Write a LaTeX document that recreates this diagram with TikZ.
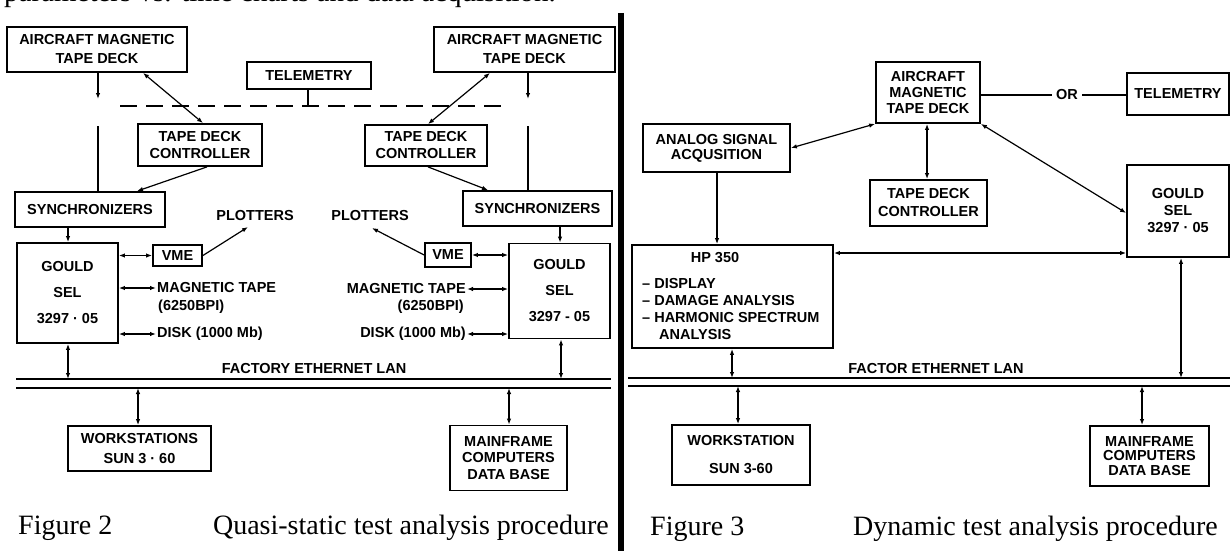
\documentclass[tikz,border=0pt]{standalone}
\usepackage{fontspec}
\setmainfont{Liberation Sans}
\newfontfamily\capfont{Liberation Serif}
\usetikzlibrary{arrows.meta}
\newcommand\boxfont{\bfseries\fontsize{14.5}{17}\selectfont}
\newcommand\bfs[1]{\bfseries\fontsize{14.5}{#1}\selectfont}
\begin{document}
\begin{tikzpicture}[x=1pt,y=-1pt,
  box/.style={draw, line width=1.8pt, inner sep=0pt, align=center, font=\boxfont},
  lbl/.style={inner sep=0pt, inner xsep=1pt, font=\boxfont},
  conn/.style={line width=1.2pt},
  arr/.style={conn, -{Latex[length=6pt,width=4.5pt]}},
  darr/.style={conn, {Latex[length=6pt,width=4.5pt]}-{Latex[length=6pt,width=4.5pt]}},
  lan/.style={line width=2pt},
  captxt/.style={inner sep=0pt, font=\capfont\fontsize{28}{30}\selectfont, anchor=base west},
]
\useasboundingbox (0,0) rectangle (1230,551);
\fill[white] (0,0) rectangle (1230,551);

% cut-off line of body text at the top
\begin{scope}
\clip (0,0) rectangle (1230,551);
\node[captxt, font=\capfont\fontsize{29}{30}\selectfont] (toptext) at (4,2) {parameters vs. time charts and data acquisition.};
\end{scope}

% divider
\coordinate (divA) at (621,13);
\coordinate (divB) at (621,551);
\draw[line width=6pt] (divA) -- (divB);

% ================= Figure 2 =================
\node[box, minimum width=180, minimum height=45, font=\bfs{19}] (amtdL) at (97,49.5) {AIRCRAFT MAGNETIC\\TAPE DECK};
\node[box, minimum width=124, minimum height=27] (telL) at (309,75.5) {TELEMETRY};
\node[box, minimum width=181, minimum height=45, font=\bfs{19}] (amtdLb) at (524.5,49.5) {AIRCRAFT MAGNETIC\\TAPE DECK};
\node[box, minimum width=124, minimum height=42] (tdcL) at (200,145) {TAPE DECK\\CONTROLLER};
\node[box, minimum width=122, minimum height=41] (tdcLb) at (426,145.5) {TAPE DECK\\CONTROLLER};
\node[box, minimum width=150, minimum height=35] (syncL) at (90,209.5) {SYNCHRONIZERS};
\node[box, minimum width=149, minimum height=35] (syncLb) at (537.5,208.5) {SYNCHRONIZERS};
\node[box, minimum width=101, minimum height=100, font=\bfs{26}] (gouldL) at (67.5,293) {GOULD\\SEL\\3297 · 05};
\node[box, minimum width=101, minimum height=95, font=\bfs{26}] (gouldLb) at (559.5,291) {GOULD\\SEL\\3297 - 05};
\node[box, minimum width=49, minimum height=21] (vmeL) at (177.5,255.5) {VME};
\node[box, minimum width=46, minimum height=24] (vmeLb) at (448,255) {VME};
\node[lbl] (plotL) at (255,216) {PLOTTERS};
\node[lbl] (plotLb) at (370,216) {PLOTTERS};
\node[lbl, anchor=west] (magL) at (156,288) {MAGNETIC TAPE};
\node[lbl, anchor=west] (bpiL) at (157,307) {(6250BPI)};
\node[lbl, anchor=west] (diskL) at (156,334) {DISK (1000 Mb)};
\node[lbl, anchor=east] (magLb) at (467,289) {MAGNETIC TAPE};
\node[lbl, anchor=east] (bpiLb) at (465,307) {(6250BPI)};
\node[lbl, anchor=east] (diskLb) at (467,334) {DISK (1000 Mb)};
\node[lbl] (lanL) at (314,369) {FACTORY ETHERNET LAN};
\node[box, minimum width=143, minimum height=45, font=\bfs{20}] (wsL) at (139.5,448.5) {WORKSTATIONS\\SUN 3 · 60};
\node[box, minimum width=117, minimum height=65, font=\bfs{16.5}] (mfL) at (508.5,458) {MAINFRAME\\COMPUTERS\\DATA BASE};

\coordinate (telTick) at (308,106);
\coordinate (dashA) at (120,106);
\coordinate (dashB) at (508,106);
\draw[conn, dash pattern=on 17pt off 9pt] (dashA) -- (dashB);
\draw[conn] (telL.south -| telTick) -- (telTick) ++(-6,0) -- ++(12,0);

\coordinate (dL) at (98,99);
\coordinate (uL) at (98,126);
\draw[arr] (amtdL.south -| dL) -- (dL);
\draw[conn] (uL) -- (uL |- syncL.north);
\draw[darr] (amtdL.south -| 143,0) -- (tdcL.north -| 203,0);
\draw[arr] (tdcL.south -| 207,0) -- (syncL.north -| 137,0);
\draw[arr] (syncL.south -| 68,0) -- (gouldL.north -| 68,0);
\draw[darr] (gouldL.east |- vmeL.west) -- (vmeL.west);
\coordinate (plotLp) at (248,227);
\draw[arr] (vmeL.east) -- (plotLp);
\draw[darr] (gouldL.east |- magL.west) -- (magL.west);
\draw[darr] (gouldL.east |- diskL.west) -- (diskL.west);

\coordinate (dLb) at (528,99);
\coordinate (uLb) at (528,126);
\draw[arr] (amtdLb.south -| dLb) -- (dLb);
\draw[conn] (uLb) -- (uLb |- syncLb.north);
\draw[darr] (amtdLb.south -| 490,0) -- (tdcLb.north -| 428,0);
\draw[arr] (tdcLb.south -| 428,0) -- (syncLb.north -| 488,0);
\draw[arr] (syncLb.south -| 560,0) -- (gouldLb.north -| 560,0);
\draw[darr] (vmeLb.east) -- (gouldLb.west |- vmeLb.east);
\coordinate (plotLbp) at (372,228);
\draw[arr] (vmeLb.west) -- (plotLbp);
\draw[darr] (magLb.east) -- (gouldLb.west |- magLb.east);
\draw[darr] (diskLb.east) -- (gouldLb.west |- diskLb.east);

\coordinate (lanL1a) at (16,379);
\coordinate (lanL1b) at (611,379);
\coordinate (lanL2a) at (16,388);
\coordinate (lanL2b) at (611,388);
\draw[lan] (lanL1a) -- (lanL1b);
\draw[lan] (lanL2a) -- (lanL2b);
\draw[darr] (gouldL.south -| 68,0) -- (68,0 |- lanL1a);
\draw[darr] (gouldLb.south -| 561,0) -- (561,0 |- lanL1a);
\draw[darr] (lanL2a -| 138,0) -- (wsL.north -| 138,0);
\draw[darr] (lanL2a -| 509,0) -- (mfL.north -| 509,0);

\node[captxt] (capL) at (18,534) {Figure 2};
\node[captxt, anchor=base east] (capLb) at (609,534) {Quasi-static test analysis procedure};

% ================= Figure 3 =================
\node[box, minimum width=104, minimum height=61, font=\bfs{16}] (amtdR) at (928,92.5) {AIRCRAFT\\MAGNETIC\\TAPE DECK};
\node[box, minimum width=102, minimum height=42] (telR) at (1178,94) {TELEMETRY};
\node[lbl, inner xsep=4pt] (orR) at (1067,95) {OR};
\node[box, minimum width=147, minimum height=48, font=\bfs{15}] (asa) at (716.5,148) {ANALOG SIGNAL\\ACQUSITION};
\node[box, minimum width=117, minimum height=46, font=\bfs{18}] (tdcR) at (928.5,203) {TAPE DECK\\CONTROLLER};
\node[box, minimum width=201, minimum height=103] (hp) at (732.5,296.5) {};
\node[lbl] (hpT) at (715,258) {HP 350};
\node[lbl, anchor=north west, align=left, font=\bfs{17}] (hpL) at (641,278) {– DISPLAY\\– DAMAGE ANALYSIS\\– HARMONIC SPECTRUM\\\hspace*{17pt}ANALYSIS};
\node[box, minimum width=102, minimum height=92, font=\bfs{17}] (gouldR) at (1178,211) {GOULD\\SEL\\3297 · 05};
\node[lbl] (lanR) at (936,369) {FACTOR ETHERNET LAN};
\node[box, minimum width=138, minimum height=60, font=\bfs{28}] (wsR) at (741,455) {WORKSTATION\\SUN 3-60};
\node[box, minimum width=119, minimum height=60, font=\bfs{14.5}] (mfR) at (1149.5,456) {MAINFRAME\\COMPUTERS\\DATA BASE};

\draw[darr] (asa.east) -- (amtdR.south west);
\draw[darr] (amtdR.south -| 927,0) -- (tdcR.north -| 927,0);
\draw[darr] (amtdR.south east) -- (gouldR.west |- 0,213);
\draw[conn] (amtdR.east |- orR.west) -- (orR.west);
\draw[conn] (orR.east) -- (telR.west |- orR.east);
\draw[arr] (asa.south -| 717,0) -- (hp.north -| 717,0);
\draw[darr] (hp.east |- 0,253) -- (gouldR.west |- 0,253);

\coordinate (lanR1a) at (628,378);
\coordinate (lanR1b) at (1230,378);
\coordinate (lanR2a) at (628,386);
\coordinate (lanR2b) at (1230,386);
\draw[lan] (lanR1a) -- (lanR1b);
\draw[lan] (lanR2a) -- (lanR2b);
\draw[darr] (gouldR.south -| 1181,0) -- (1181,0 |- lanR1a);
\draw[darr] (hp.south -| 732,0) -- (732,0 |- lanR1a);
\draw[darr] (lanR2a -| 738,0) -- (wsR.north -| 738,0);
\draw[darr] (lanR2a -| 1142,0) -- (mfR.north -| 1142,0);

\node[captxt] (capR) at (650,535) {Figure 3};
\node[captxt, anchor=base east] (capRb) at (1218,535) {Dynamic test analysis procedure};
\end{tikzpicture}
\end{document}
